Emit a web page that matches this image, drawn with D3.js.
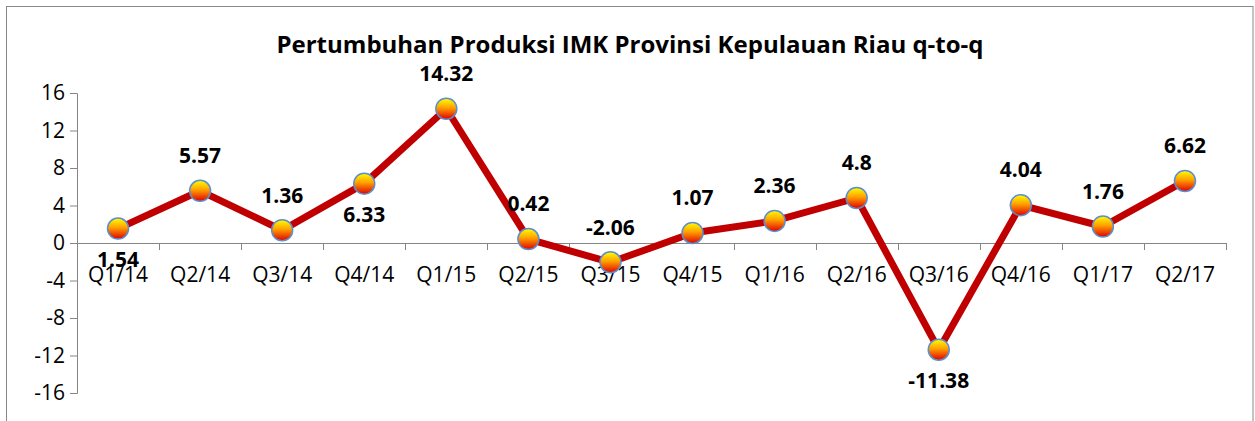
<!DOCTYPE html>
<html>
<head>
<meta charset="utf-8">
<script src="https://cdn.jsdelivr.net/npm/d3@7"></script>
<style>
	body { margin: 0; background: #fff; }
	svg text { font-family: "Open Sans", "Noto Sans", sans-serif; fill: #000; }
</style>
</head>
<body>
<div id="chart"></div>
<script>
// data
const quarters = ["Q1/14","Q2/14","Q3/14","Q4/14","Q1/15","Q2/15","Q3/15","Q4/15","Q1/16","Q2/16","Q3/16","Q4/16","Q1/17","Q2/17"]
const growth = [1.54, 5.57, 1.36, 6.33, 14.32, 0.42, -2.06, 1.07, 2.36, 4.8, -11.38, 4.04, 1.76, 6.62]
const yTicks = [16, 12, 8, 4, 0, -4, -8, -12, -16]
// where Excel put each data label
const labelSide = ["below","above","above","below","above","above","above","above","above","above","below","above","above","above"]
const title = "Pertumbuhan Produksi IMK Provinsi Kepulauan Riau q-to-q"

const svgWidth = 1255, svgHeight = 421
var margin = { left: 77, right: 29, top: 93, bottom: 28 }
var width = svgWidth - margin.left - margin.right,
	height = svgHeight - margin.top - margin.bottom

let svg = d3.select("#chart")
	.append("svg")
	.attr("width", svgWidth)
	.attr("height", svgHeight)

// chart area border
svg.append("rect")
	.attr("x", 6.5).attr("y", 6.5)
	.attr("width", 1253 - 6.5).attr("height", 440)
	.attr("fill", "#fff")
	.attr("stroke", "#898989")
	.attr("stroke-width", 1)

let defs = svg.append("defs")
let grad = defs.append("linearGradient")
	.attr("id", "ball")
	.attr("x1", 0).attr("y1", 0).attr("x2", 0).attr("y2", 1)
grad.append("stop").attr("offset", "0%").attr("stop-color", "#ffff00")
grad.append("stop").attr("offset", "45%").attr("stop-color", "#ffa000")
grad.append("stop").attr("offset", "100%").attr("stop-color", "#e00000")

let g = svg.append("g")
	.attr("transform", "translate(" + margin.left + ", " + margin.top + ")")

var x = d3.scaleBand()
	.domain(quarters)
	.range([0, width])
var y = d3.scaleLinear()
	.domain([-16, 16])
	.range([300, 0])

//axes
var yAxisCall = d3.axisLeft(y).tickValues(yTicks).tickFormat(d => String(d)).tickSize(7).tickPadding(4)
let yAxis = g.append("g")
	.attr("class", "y axis")
	.call(yAxisCall)
yAxis.select(".domain").attr("d", "M-7,0.5H0.5V300.5H-7").attr("stroke", "#868686")
yAxis.selectAll(".tick line").attr("stroke", "#868686")
yAxis.selectAll(".tick text").attr("font-size", "21px").attr("x", -12)

// category axis sits at zero, ticks between categories
var xAxisCall = d3.axisBottom(x).tickSize(0).tickPadding(0)
let xAxis = g.append("g")
	.attr("class", "x axis")
	.attr("transform", "translate(0, " + y(0) + ")")
	.call(xAxisCall)
xAxis.select(".domain").attr("stroke", "#868686").attr("d", "M0,0.5H" + width)
xAxis.selectAll(".tick text")
	.attr("font-size", "21px")
	.attr("y", 39)
	.attr("dy", 0)
xAxis.selectAll("line.sep")
	.data(d3.range(quarters.length + 1))
	.enter()
	.append("line")
	.attr("class", "sep")
	.attr("x1", i => Math.round(i * x.step()) + 0.5)
	.attr("x2", i => Math.round(i * x.step()) + 0.5)
	.attr("y1", 0)
	.attr("y2", 7)
	.attr("stroke", "#868686")

// the line
const cx = d => x(d.q) + x.bandwidth() / 2
const points = quarters.map((q, i) => ({ q: q, v: growth[i], side: labelSide[i] }))

g.append("path")
	.datum(points)
	.attr("fill", "none")
	.attr("stroke", "#c00000")
	.attr("stroke-width", 7)
	.attr("stroke-linejoin", "round")
	.attr("d", d3.line()
		.x(cx)
		.y(d => y(d.v))
	)

g.selectAll("circle")
	.data(points)
	.enter()
	.append("circle")
	.attr("cx", cx)
	.attr("cy", d => y(d.v))
	.attr("r", 10.5)
	.attr("fill", "url(#ball)")
	.attr("stroke", "#5b8fd0")
	.attr("stroke-width", 1.5)

g.selectAll("text.val")
	.data(points)
	.enter()
	.append("text")
	.attr("class", "val")
	.attr("x", cx)
	.attr("y", d => y(d.v) + (d.side == "below" ? 31 : -35))
	.attr("dy", "0.35em")
	.attr("text-anchor", "middle")
	.attr("font-size", "21px")
	.attr("font-weight", "bold")
	.text(d => String(d.v))

// title, shrunk to the width it has in the picture
let t = svg.append("text")
	.attr("x", 630)
	.attr("y", 53)
	.attr("text-anchor", "middle")
	.attr("font-weight", "bold")
	.attr("font-size", "26px")
	.text(title)
let tw = t.node().getComputedTextLength()
t.attr("font-size", (26 * 706 / tw).toFixed(1) + "px")
</script>
</body>
</html>
